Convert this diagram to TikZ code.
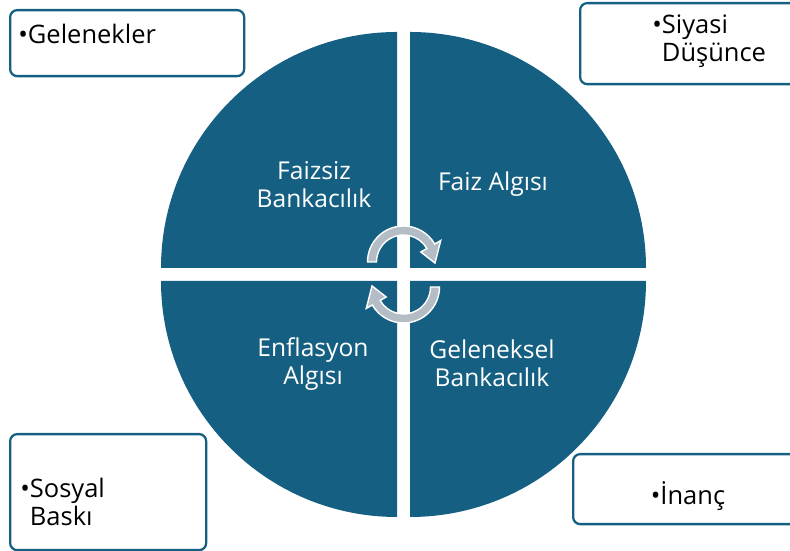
\documentclass[tikz,border=0pt]{standalone}
\usepackage{fontspec}
\setmainfont{Open Sans}
\usetikzlibrary{positioning,calc}
\definecolor{quadFill}{RGB}{21,96,130}
\definecolor{boxLine}{RGB}{21,96,130}
\definecolor{arrFill}{RGB}{180,188,198}
\tikzset{
  quad/.style={fill=quadFill},
  qlabel/.style={text=white, align=center, font=\fontsize{14}{16}\selectfont},
  note/.style={rectangle, rounded corners=4pt, draw=boxLine, line width=1.3pt, fill=white,
               anchor=north west},
  notetext/.style={align=left, font=\fontsize{14.5}{16}\selectfont, inner sep=0pt},
  cyc/.style={fill=arrFill, draw=white, line width=0.8pt},
}

\begin{document}
\begin{tikzpicture}[x=0.2mm,y=0.2mm]
  \useasboundingbox (0,0) rectangle (790,551);
  % the four quarters
  \fill[quad] (397,283) -- (161,283) arc[start angle=180,end angle=90,radius=236] -- cycle;
  \fill[quad] (410,283) -- (410,519) arc[start angle=90,end angle=0,radius=236] -- cycle;
  \fill[quad] (397,270) -- (397,34) arc[start angle=270,end angle=180,radius=236] -- cycle;
  \fill[quad] (410,270) -- (646,270) arc[start angle=0,end angle=-90,radius=236] -- cycle;

  \node[qlabel] (faizsiz) at (314,366) {Faizsiz\\Bankacılık};
  \node[qlabel] (faiz) at (493,367) {Faiz Algısı};
  \node[qlabel] (enflasyon) at (313,187) {Enflasyon\\Algısı};
  \node[qlabel] (geleneksel) at (492,188) {Geleneksel\\Bankacılık};

  % turning arrows in the middle
  \begin{scope}[shift={(403.5,289)}]
    \draw[cyc] (180:36) arc[start angle=180,end angle=30,radius=36] -- (30:43) -- (-2:31.5)
      -- (30:20) -- (30:27) arc[start angle=30,end angle=180,radius=27] -- cycle;
  \end{scope}
  \begin{scope}[shift={(403.5,264)}, rotate=180]
    \draw[cyc] (180:36) arc[start angle=180,end angle=30,radius=36] -- (30:43) -- (-2:31.5)
      -- (30:20) -- (30:27) arc[start angle=30,end angle=180,radius=27] -- cycle;
  \end{scope}

  % corner boxes
  \node[note, minimum width=46.8mm, minimum height=13.2mm] (gelbox) at (9,542) {};
  \node[note, minimum width=44.2mm, minimum height=16.2mm] (siybox) at (579,549) {};
  \node[note, minimum width=39.2mm, minimum height=23.2mm] (sosbox) at (9,118) {};
  \node[note, minimum width=45.6mm, minimum height=14mm] (inbox) at (572,98) {};

  \node[notetext, anchor=west] (gelenekler) at ($(gelbox.north west)+(9,-25)$) {•Gelenekler};
  \node[notetext, anchor=west] (siyasi) at ($(siybox.west)+(73,2)$) {•Siyasi\\\phantom{•}Düşünce};
  \node[notetext, anchor=west] (sosyal) at ($(sosbox.west)+(11,-10)$) {•Sosyal\\\phantom{•}Baskı};
  \node[notetext] (inanc) at ($(inbox.west)+(116,-7)$) {•İnanç};
\end{tikzpicture}
\end{document}
